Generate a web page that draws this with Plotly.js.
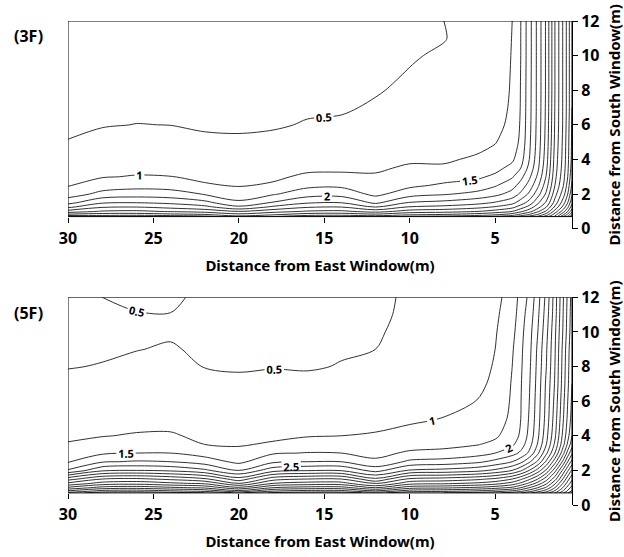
<!DOCTYPE html>
<html><head><meta charset="utf-8">
<script src="https://cdn.plot.ly/plotly-3.0.1.min.js"></script>
<style>html,body{margin:0;padding:0;background:#fff}#chart{width:624px;height:557px}</style>
</head><body><div id="chart"></div>
<script>
// ---- data ----
const distEast = [0.5, 0.75, 1, 1.5, 2, 2.5, 3, 3.5, 4, 5, 6, 8, 10, 12, 14, 16, 18, 20, 22, 24, 26, 28, 30];
const distSouth = [0.7, 0.8, 1, 1.25, 1.5, 2, 2.5, 3, 3.5, 4, 5, 6, 7, 8, 9, 10, 11, 12];

// one column per distEast value, bottom (distSouth[0]) to top
const df3F = [
  [11.5, 11, 10.3, 9.8, 9.4, 8.9, 8.6, 8.4, 8.25, 8.15, 8.1, 8.05, 8.0, 8.0, 8.0, 8.0, 8.0, 8.0],
  [10.6, 10.2, 9.5, 8.9, 8.5, 8.0, 7.7, 7.5, 7.4, 7.35, 7.3, 7.25, 7.2, 7.2, 7.2, 7.2, 7.2, 7.2],
  [10.0, 9.5, 8.8, 8.2, 7.8, 7.3, 7.0, 6.85, 6.75, 6.7, 6.65, 6.6, 6.6, 6.6, 6.6, 6.6, 6.6, 6.6],
  [8.6, 8.3, 7.7, 7.1, 6.7, 6.3, 6.0, 5.85, 5.75, 5.7, 5.6, 5.55, 5.52, 5.5, 5.5, 5.5, 5.5, 5.5],
  [7.8, 7.3, 6.6, 6.0, 5.6, 5.1, 4.8, 4.55, 4.4, 4.3, 4.2, 4.15, 4.12, 4.1, 4.1, 4.1, 4.1, 4.1],
  [7.1, 6.6, 5.9, 5.3, 4.9, 4.3, 3.9, 3.6, 3.4, 3.3, 3.2, 3.17, 3.15, 3.15, 3.15, 3.15, 3.15, 3.15],
  [6.7, 6.1, 5.3, 4.7, 4.2, 3.6, 3.2, 2.9, 2.65, 2.5, 2.4, 2.35, 2.33, 2.32, 2.31, 2.3, 2.3, 2.3],
  [6.3, 5.7, 4.9, 4.25, 3.75, 3.1, 2.7, 2.35, 2.0, 1.8, 1.62, 1.56, 1.53, 1.52, 1.51, 1.5, 1.5, 1.49],
  [5.9, 5.3, 4.5, 3.85, 3.35, 2.7, 2.3, 1.95, 1.65, 1.42, 1.2, 1.1, 1.06, 1.04, 1.03, 1.02, 1.01, 1.0],
  [5.6, 5.0, 4.2, 3.55, 3.05, 2.35, 1.95, 1.6, 1.35, 1.16, 0.98, 0.88, 0.83, 0.8, 0.78, 0.77, 0.76, 0.76],
  [5.4, 4.8, 4.0, 3.35, 2.85, 2.15, 1.72, 1.42, 1.2, 1.06, 0.88, 0.77, 0.71, 0.67, 0.65, 0.63, 0.6, 0.6],
  [5.2, 4.6, 3.8, 3.15, 2.65, 1.95, 1.58, 1.3, 1.05, 0.95, 0.82, 0.72, 0.65, 0.59, 0.555, 0.53, 0.49, 0.5],
  [5.1, 4.5, 3.7, 3.05, 2.55, 1.78, 1.4, 1.18, 1.05, 0.95, 0.8, 0.68, 0.6, 0.55, 0.51, 0.48, 0.46, 0.45],
  [4.8, 4.2, 3.3, 2.5, 1.9, 1.38, 1.18, 1.04, 0.95, 0.86, 0.72, 0.6, 0.53, 0.48, 0.45, 0.44, 0.43, 0.42],
  [5.0, 4.35, 3.6, 3.0, 2.5, 1.8, 1.4, 1.08, 0.93, 0.82, 0.66, 0.54, 0.47, 0.44, 0.42, 0.41, 0.4, 0.4],
  [4.9, 4.3, 3.55, 2.95, 2.45, 1.78, 1.38, 1.07, 0.92, 0.8, 0.64, 0.52, 0.46, 0.43, 0.41, 0.4, 0.39, 0.38],
  [4.5, 4.0, 3.3, 2.6, 2.05, 1.45, 1.05, 0.93, 0.82, 0.73, 0.57, 0.47, 0.43, 0.41, 0.39, 0.38, 0.37, 0.36],
  [4.2, 3.7, 3.0, 2.1, 1.6, 1.22, 0.97, 0.85, 0.76, 0.68, 0.54, 0.46, 0.42, 0.4, 0.38, 0.37, 0.36, 0.36],
  [4.7, 4.1, 3.3, 2.65, 2.15, 1.47, 1.04, 0.92, 0.82, 0.72, 0.56, 0.46, 0.42, 0.4, 0.38, 0.37, 0.36, 0.36],
  [4.9, 4.2, 3.45, 2.85, 2.4, 1.7, 1.3, 1.01, 0.87, 0.76, 0.61, 0.497, 0.44, 0.41, 0.39, 0.38, 0.37, 0.36],
  [5.1, 4.3, 3.6, 3.0, 2.5, 1.75, 1.33, 1.03, 0.88, 0.77, 0.62, 0.505, 0.44, 0.41, 0.39, 0.38, 0.37, 0.36],
  [4.9, 4.3, 3.55, 2.95, 2.45, 1.65, 1.25, 0.97, 0.85, 0.75, 0.6, 0.48, 0.43, 0.4, 0.38, 0.37, 0.36, 0.35],
  [5.0, 4.2, 3.2, 2.4, 1.85, 1.25, 0.97, 0.85, 0.75, 0.66, 0.51, 0.45, 0.41, 0.39, 0.37, 0.36, 0.35, 0.35]
];

const df5F = [
  [13, 12.6, 12.2, 11.8, 11.4, 10.6, 9.7, 8.9, 8.3, 8.0, 7.7, 7.6, 7.5, 7.45, 7.4, 7.3, 7.25, 7.2],
  [12.5, 12.1, 11.7, 11.2, 10.8, 9.9, 9.0, 8.2, 7.6, 7.3, 7.1, 7.0, 6.9, 6.85, 6.8, 6.7, 6.65, 6.6],
  [12, 11.6, 11.1, 10.6, 10.1, 9.2, 8.2, 7.4, 6.9, 6.7, 6.5, 6.4, 6.3, 6.25, 6.2, 6.1, 6.05, 6.0],
  [11, 10.6, 10.0, 9.4, 8.8, 7.8, 6.8, 6.0, 5.6, 5.4, 5.25, 5.15, 5.05, 5.0, 4.95, 4.9, 4.8, 4.75],
  [10.3, 9.8, 9.1, 8.4, 7.8, 6.6, 5.6, 4.9, 4.5, 4.35, 4.2, 4.15, 4.1, 4.0, 3.95, 3.85, 3.75, 3.65],
  [9.8, 9.3, 8.5, 7.7, 7.0, 5.7, 4.6, 3.9, 3.55, 3.4, 3.3, 3.25, 3.2, 3.15, 3.1, 3.0, 2.9, 2.8],
  [9.4, 8.8, 8.0, 7.1, 6.4, 5.0, 3.9, 3.1, 2.8, 2.65, 2.55, 2.5, 2.45, 2.4, 2.35, 2.3, 2.2, 2.1],
  [9.0, 8.4, 7.5, 6.6, 5.9, 4.4, 3.35, 2.6, 2.25, 2.08, 2.0, 1.98, 1.96, 1.93, 1.9, 1.85, 1.8, 1.72],
  [8.7, 8.1, 7.1, 6.2, 5.5, 4.0, 3.0, 2.3, 1.92, 1.75, 1.62, 1.57, 1.54, 1.5, 1.44, 1.34, 1.22, 1.12],
  [8.4, 7.8, 6.8, 5.8, 5.1, 3.6, 2.65, 2.0, 1.62, 1.42, 1.23, 1.13, 1.07, 1.03, 1.0, 0.96, 0.93, 0.92],
  [8.2, 7.6, 6.6, 5.6, 4.9, 3.35, 2.4, 1.8, 1.48, 1.32, 1.12, 1.01, 0.93, 0.88, 0.85, 0.83, 0.82, 0.81],
  [8.0, 7.4, 6.4, 5.4, 4.7, 3.15, 2.2, 1.62, 1.38, 1.22, 1.01, 0.88, 0.8, 0.74, 0.7, 0.67, 0.65, 0.64],
  [7.9, 7.3, 6.3, 5.3, 4.6, 3.05, 2.1, 1.58, 1.3, 1.13, 0.93, 0.8, 0.7, 0.63, 0.58, 0.55, 0.53, 0.52],
  [7.3, 6.6, 5.5, 4.4, 3.6, 2.3, 1.6, 1.35, 1.18, 1.04, 0.85, 0.72, 0.62, 0.55, 0.5, 0.48, 0.47, 0.47],
  [7.8, 7.2, 6.2, 5.2, 4.5, 2.95, 2.0, 1.5, 1.22, 1.0, 0.8, 0.68, 0.58, 0.51, 0.48, 0.46, 0.45, 0.45],
  [7.8, 7.2, 6.2, 5.2, 4.5, 2.95, 2.0, 1.52, 1.2, 0.97, 0.78, 0.66, 0.56, 0.48, 0.46, 0.45, 0.44, 0.44],
  [7.6, 7.0, 6.0, 5.0, 4.3, 2.8, 1.9, 1.45, 1.04, 0.93, 0.76, 0.65, 0.56, 0.49, 0.46, 0.45, 0.44, 0.44],
  [6.9, 6.2, 5.1, 4.0, 3.2, 2.0, 1.38, 1.1, 0.97, 0.88, 0.72, 0.62, 0.54, 0.48, 0.46, 0.45, 0.44, 0.44],
  [7.5, 6.9, 5.9, 4.9, 4.1, 2.6, 1.75, 1.3, 1.0, 0.9, 0.74, 0.63, 0.55, 0.495, 0.47, 0.46, 0.45, 0.45],
  [7.7, 7.1, 6.1, 5.1, 4.4, 2.9, 2.0, 1.5, 1.23, 1.05, 0.83, 0.7, 0.61, 0.55, 0.515, 0.48, 0.495, 0.54],
  [7.9, 7.3, 6.3, 5.3, 4.6, 3.0, 2.05, 1.5, 1.22, 1.04, 0.82, 0.68, 0.6, 0.54, 0.495, 0.47, 0.49, 0.54],
  [7.8, 7.2, 6.2, 5.2, 4.5, 2.9, 1.95, 1.43, 1.17, 0.98, 0.78, 0.65, 0.57, 0.51, 0.47, 0.46, 0.47, 0.5],
  [7.2, 6.6, 5.6, 4.6, 3.8, 2.05, 1.45, 1.2, 1.03, 0.93, 0.75, 0.64, 0.56, 0.49, 0.45, 0.43, 0.42, 0.42]
];

const panelLabels = ['(3F)', '(5F)'];
const labeledMax = [2, 2.5];          // highest labelled contour level per panel
const xTickVals = [30, 25, 20, 15, 10, 5];
const yTickVals = [0, 2, 4, 6, 8, 10, 12];
const leftTickVals = [5, 10];
const xTitleText = 'Distance from East Window(m)';
const yTitleText = 'Distance from South Window(m)';

// ---- layout geometry ----
const W = 624, H = 557;
const FONT = 'Noto Sans, Open Sans, DejaVu Sans, sans-serif';
const xRange = [30, 0.5];
const yRange = [0, 12];
const levelStep = 0.5;
const xDom = [68 / W, 572 / W];
const yDoms = [[1 - 228.7 / H, 1 - 21 / H], [1 - 505 / H, 1 - 297.3 / H]];
const labelY = [1 - 35.5 / H, 1 - 312.5 / H];
const yBottom = Math.min(...distSouth);
const yTop = Math.max(...distSouth);
const xLeft = Math.max(...distEast);
const xRight = Math.min(...distEast);

const tickFont = {family: FONT, size: 16, color: '#000', weight: 'bold'};
const titleFont = {family: FONT, size: 15, color: '#000', weight: 'bold'};
const lineStyle = {color: '#1a1a1a', width: 0.9, smoothing: 0.9};

const panels = [df3F, df5F];
const traces = [];
const layout = {
  width: W, height: H,
  margin: {l: 0, r: 0, t: 0, b: 0},
  paper_bgcolor: '#fff', plot_bgcolor: 'rgba(0,0,0,0)',
  showlegend: false,
  shapes: [], annotations: []
};

panels.forEach((z, i) => {
  const n = i + 1;
  const xa = n === 1 ? 'x' : 'x' + n;
  const ya = n === 1 ? 'y' : 'y' + n;
  const xKey = n === 1 ? 'xaxis' : 'xaxis' + n;
  const yKey = n === 1 ? 'yaxis' : 'yaxis' + n;
  const topKey = 'xaxis' + (n + 2);
  const leftKey = 'yaxis' + (n + 2);
  const dom = yDoms[i];
  const axisPos = dom[0] + (yBottom - yRange[0]) / (yRange[1] - yRange[0]) * (dom[1] - dom[0]);

  const common = {x: distEast, y: distSouth, z: z, transpose: true, type: 'contour',
    xaxis: xa, yaxis: ya, showscale: false, hoverinfo: 'skip', line: lineStyle};
  traces.push(Object.assign({}, common, {
    contours: {coloring: 'none', start: levelStep, end: labeledMax[i], size: levelStep,
      showlabels: true, labelfont: {family: FONT, size: 11, color: '#000', weight: 'bold'}}
  }));
  traces.push(Object.assign({}, common, {
    contours: {coloring: 'none', start: labeledMax[i] + levelStep, end: 14, size: levelStep, showlabels: false}
  }));

  layout[xKey] = {
    domain: xDom, range: xRange, anchor: 'free', position: axisPos,
    showgrid: false, zeroline: false, showline: false,
    tickmode: 'array', tickvals: xTickVals, ticks: 'outside', ticklen: 5, tickwidth: 1, tickcolor: '#000',
    tickfont: tickFont, ticklabelstandoff: 2,
    title: {text: xTitleText, font: titleFont, standoff: 12}
  };
  layout[topKey] = {
    overlaying: xa, side: 'top', anchor: ya, range: xRange,
    showgrid: false, zeroline: false, showline: false, showticklabels: false,
    tickmode: 'array', tickvals: xTickVals, ticks: 'outside', ticklen: 5, tickwidth: 1, tickcolor: '#000'
  };
  layout[yKey] = {
    domain: dom, range: yRange, side: 'right', anchor: xa,
    showgrid: false, zeroline: false, showline: true, linecolor: '#000', linewidth: 1,
    tickmode: 'array', tickvals: yTickVals, ticks: 'outside', ticklen: 5, tickwidth: 1, tickcolor: '#000',
    tickfont: tickFont,
    title: {text: yTitleText, font: titleFont, standoff: 12}
  };
  layout[leftKey] = {
    overlaying: ya, side: 'left', anchor: xa, range: yRange,
    showgrid: false, zeroline: false, showline: false, showticklabels: false,
    tickmode: 'array', tickvals: leftTickVals, ticks: 'outside', ticklen: 5, tickwidth: 1, tickcolor: '#000'
  };
  layout.shapes.push({type: 'rect', xref: xa, yref: ya, x0: xLeft, x1: xRight, y0: yBottom, y1: yTop,
    line: {color: '#000', width: 1}, fillcolor: 'rgba(0,0,0,0)', layer: 'above'});
  layout.annotations.push({text: panelLabels[i], xref: 'paper', yref: 'paper', x: 28 / W, y: labelY[i],
    xanchor: 'center', yanchor: 'middle', showarrow: false,
    font: {family: FONT, size: 16, color: '#000', weight: 'bold'}});
});

Plotly.newPlot('chart', traces, layout, {staticPlot: true, displayModeBar: false});
</script>
</body></html>
